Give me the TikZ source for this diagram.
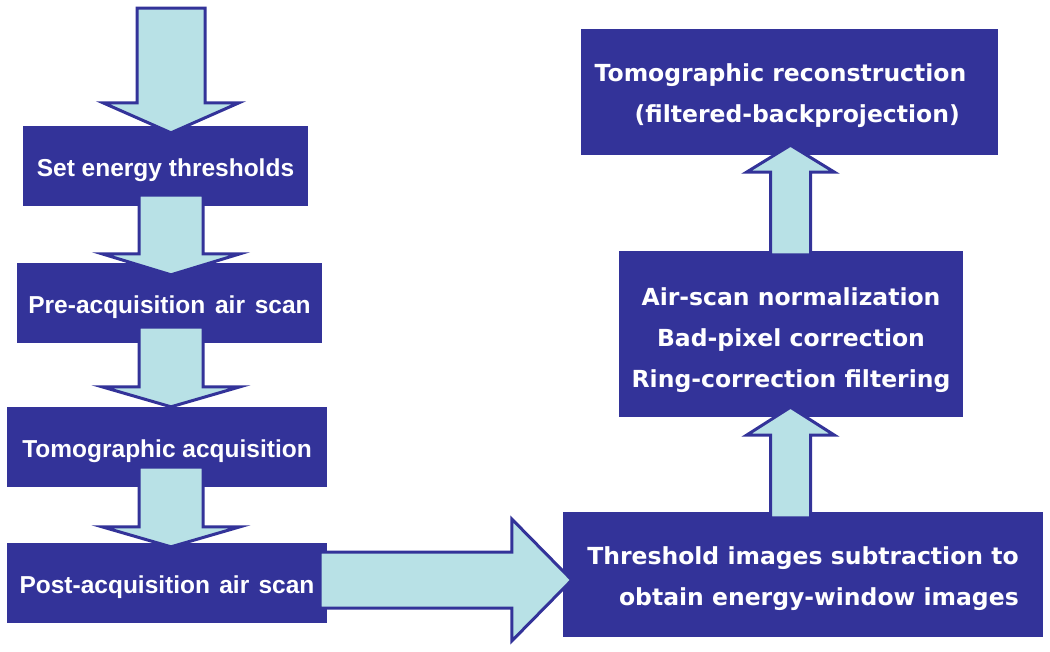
\documentclass[tikz,border=0pt]{standalone}
\usepackage{fontspec}
\setmainfont{Liberation Sans}
\newfontfamily\rfont{DejaVu Sans}
\usetikzlibrary{calc}
\definecolor{boxblue}{RGB}{51,51,153}
\definecolor{arrowfill}{RGB}{184,225,230}
\newcommand{\push}[1]{\rule{0pt}{#1}}
% vertical fat arrow: #1 from, #2 to, #3 start dy, #4 wing dy, #5 tip dy, #6 half shaft, #7 half head
\newcommand{\vfat}[7]{%
  \draw[fatarrow] ($(#1)+(-#6,#3)$) -- ($(#2)+(-#6,#4)$) -- ($(#2)+(-#7,#4)$)
    -- ($(#2)+(0,#5)$) -- ($(#2)+(#7,#4)$) -- ($(#2)+(#6,#4)$) -- ($(#1)+(#6,#3)$) -- cycle;}
% horizontal fat arrow
\newcommand{\hfat}[7]{%
  \draw[fatarrow] ($(#1)+(#3,-#6)$) -- ($(#2)+(#4,-#6)$) -- ($(#2)+(#4,-#7)$)
    -- ($(#2)+(#5,0)$) -- ($(#2)+(#4,#7)$) -- ($(#2)+(#4,#6)$) -- ($(#1)+(#3,#6)$) -- cycle;}
\begin{document}
\begin{tikzpicture}[x=1pt,y=-1pt,
  box/.style={fill=boxblue, text=white, inner sep=0pt},
  lbox/.style={box, align=center, font=\fontsize{24.5}{28}\bfseries\selectfont, minimum height=80},
  rbox/.style={box, font=\rfont\fontsize{23.5}{41}\bfseries\selectfont},
  fatarrow/.style={fill=arrowfill, draw=boxblue, line width=3pt, line join=miter}]
\useasboundingbox (0,0) rectangle (1050,651);
% left column
\node[lbox, minimum width=285] (b1) at (165.5,166) {\push{26pt}Set energy thresholds};
\node[lbox, minimum width=305] (b2) at (169.5,303) {\push{26pt}Pre-acquisition\hspace{0.12em} air\hspace{0.12em} scan};
\node[lbox, minimum width=320] (b3) at (167,447) {\push{26pt}Tomographic acquisition};
\node[lbox, minimum width=320] (b4) at (167,583) {\push{26pt}Post-acquisition\hspace{0.1em} air\hspace{0.1em} scan};
% right column
\node[rbox, align=left, minimum width=417, minimum height=126] (r1) at (789.5,92)
  {\push{26pt}Tomographic reconstruction\hspace*{18pt}\\\hspace*{40pt}(filtered-backprojection)};
\node[rbox, align=center, minimum width=344, minimum height=166] (r2) at (791,334)
  {\push{30pt}Air-scan normalization\\Bad-pixel correction\\Ring-correction filtering};
\node[rbox, align=right, minimum width=480, minimum height=125] (r3) at (803,574.5)
  {\push{26pt}Threshold images subtraction to\\obtain energy-window images};
% axes for arrows
\coordinate (start) at (171,8);
\coordinate (ax) at (171,0);
\coordinate (rax) at (790.5,0);
\coordinate (hax) at (0,580);
% arrows
\vfat{start}{b1.north -| ax}{0}{-23}{7}{34}{68}
\vfat{b1.south -| ax}{b2.north -| ax}{-11}{-9}{12}{32}{69}
\vfat{b2.south -| ax}{b3.north -| ax}{-16}{-20}{0}{32}{69}
\vfat{b3.south -| ax}{b4.north -| ax}{-20}{-16}{4}{32}{69}
\hfat{b4.east |- hax}{r3.west |- hax}{-7}{-51}{9}{28}{61}
\vfat{r3.north -| rax}{r2.south -| rax}{6}{18}{-10}{20}{44}
\vfat{r2.north -| rax}{r1.south -| rax}{4}{17}{-10}{20}{44}
\end{tikzpicture}
\end{document}
